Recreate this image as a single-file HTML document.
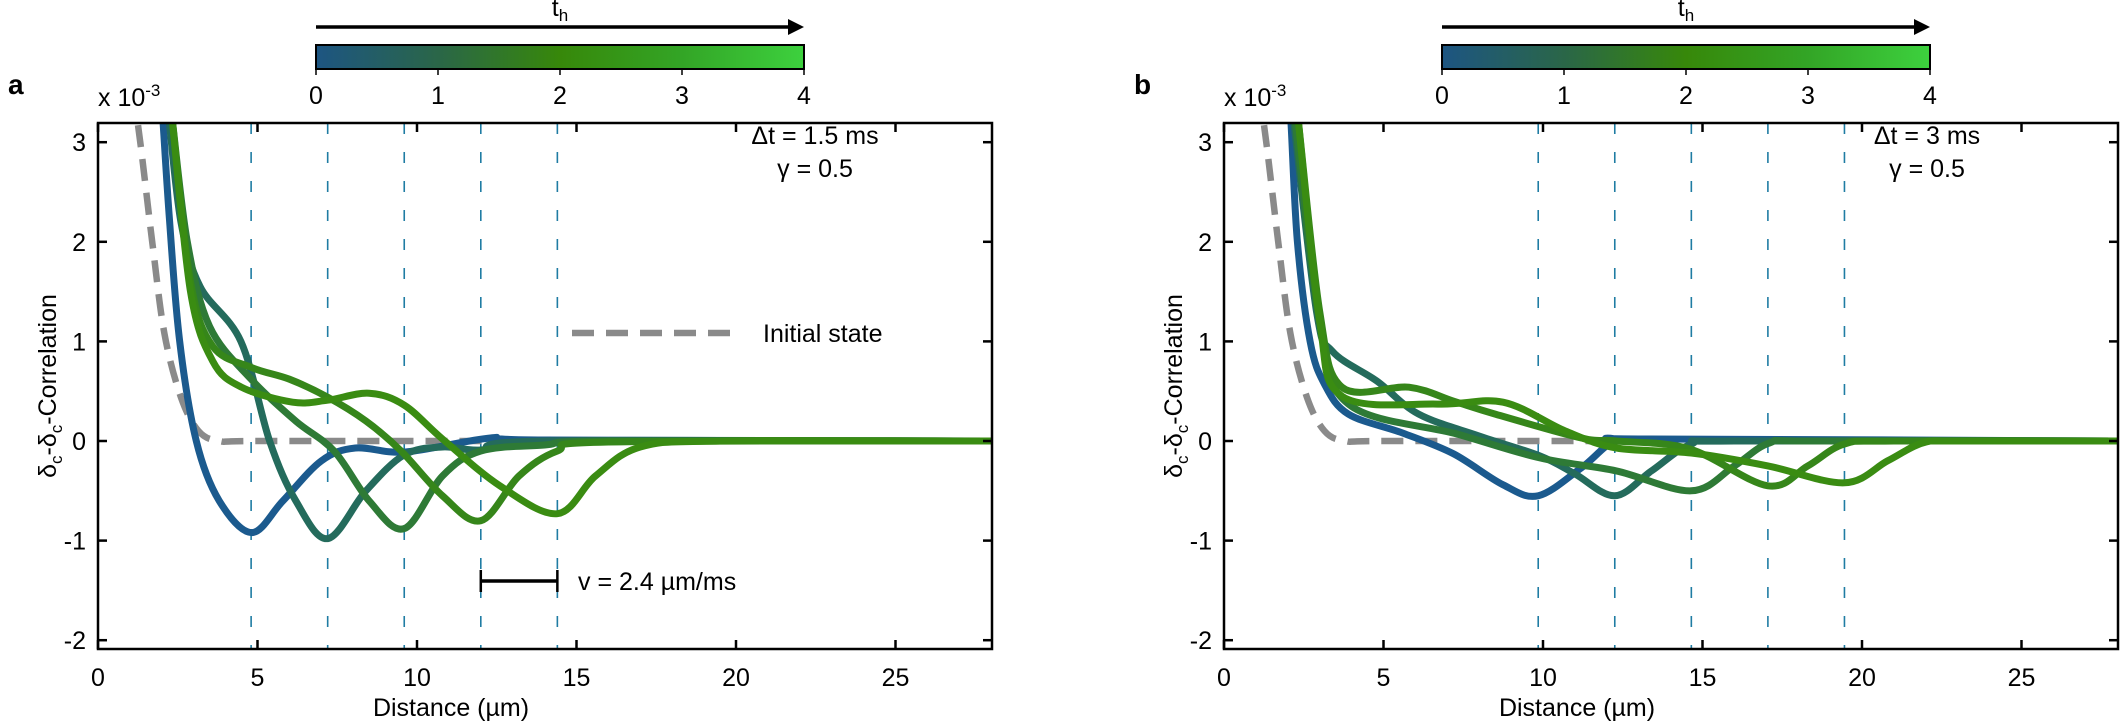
<!DOCTYPE html>
<html><head><meta charset="utf-8"><style>
html,body{margin:0;padding:0;background:#fff;}
svg{display:block;font-family:"Liberation Sans",sans-serif;}
</style></head><body>
<svg id="s" width="2121" height="722" xmlns="http://www.w3.org/2000/svg">
<defs>
<linearGradient id="cm" x1="0" x2="1" y1="0" y2="0">
<stop offset="0" stop-color="#1d5582"/><stop offset="0.25" stop-color="#2a6648"/>
<stop offset="0.5" stop-color="#37880a"/><stop offset="0.75" stop-color="#33a526"/>
<stop offset="1" stop-color="#3dd13e"/></linearGradient>
</defs>
<g id="root"></g>
</svg>
<script>
const NS="http://www.w3.org/2000/svg";
const root=document.getElementById('root');
const FS=25, FSS=17;
function el(t,a,txt,p){const e=document.createElementNS(NS,t);for(const k in a)e.setAttribute(k,a[k]);if(txt!=null)e.textContent=txt;(p||root).appendChild(e);return e;}
function cr(pts){let d="M"+pts[0][0].toFixed(1)+","+pts[0][1].toFixed(1);
for(let i=0;i<pts.length-1;i++){const p0=pts[Math.max(0,i-1)],p1=pts[i],p2=pts[i+1],p3=pts[Math.min(pts.length-1,i+2)];
const c1=[p1[0]+(p2[0]-p0[0])/6,p1[1]+(p2[1]-p0[1])/6],c2=[p2[0]-(p3[0]-p1[0])/6,p2[1]-(p3[1]-p1[1])/6];
d+=" C"+c1.map(v=>v.toFixed(1))+" "+c2.map(v=>v.toFixed(1))+" "+p2.map(v=>v.toFixed(1));}return d;}
const cols=["#1b5a8e","#246b5c","#2e7a36","#36861a","#3a8c12"];
function panel(ox,label,dts,vlines,curves,extra){
 const X=x=>ox+31.9*x, Y=y=>441-99.6*y, L=ox, R=ox+894, T=123, B=649;
 const cp="cp"+label; const c=el('clipPath',{id:cp}); el('rect',{x:L,y:T,width:R-L,height:B-T},null,c);
 const g=el('g',{'clip-path':'url(#'+cp+')'});
 vlines.forEach(v=>el('line',{x1:X(v),x2:X(v),y1:T,y2:B,stroke:'#1f7ca3','stroke-width':1.6,'stroke-dasharray':'11 18'},null,g));
 const gray=[[1.0,3.5],[1.24,3.2],[1.7,2.0],[2.08,1.08],[2.6,0.44],[3.15,0.1],[3.8,0.0],[5,0],[12.6,0]];
 el('path',{d:cr(gray.map(p=>[X(p[0]),Y(p[1])])),fill:'none',stroke:'#8a8a8a','stroke-width':6.5,'stroke-dasharray':'22 12'},null,g);
 curves.forEach((cv,i)=>el('path',{d:cr(cv.map(p=>[X(p[0]),Y(p[1])])),fill:'none',stroke:cols[i],'stroke-width':7,'stroke-linejoin':'round'},null,g));
 el('rect',{x:L,y:T,width:R-L,height:B-T,fill:'none',stroke:'#000','stroke-width':2.5});
 for(let v=0;v<=25;v+=5){el('line',{x1:X(v),x2:X(v),y1:B,y2:B-9,stroke:'#000','stroke-width':2.5});el('line',{x1:X(v),x2:X(v),y1:T,y2:T+9,stroke:'#000','stroke-width':2.5});
  el('text',{x:X(v),y:686,'font-size':FS,'text-anchor':'middle'},String(v));}
 for(let v=-2;v<=3;v++){el('line',{x1:L,x2:L+9,y1:Y(v),y2:Y(v),stroke:'#000','stroke-width':2.5});el('line',{x1:R,x2:R-9,y1:Y(v),y2:Y(v),stroke:'#000','stroke-width':2.5});
  el('text',{x:L-12,y:Y(v)+9,'font-size':FS,'text-anchor':'end'},String(v));}
 const t=el('text',{x:L,y:106,'font-size':FS},'x 10');el('tspan',{'font-size':FSS,dy:-10},'-3',t);
 const yl=el('text',{transform:`translate(${L-42},386) rotate(-90)`,'font-size':FS,'text-anchor':'middle'});
 yl.innerHTML='δ<tspan font-size="17" dy="6">c</tspan><tspan dy="-6">-δ</tspan><tspan font-size="17" dy="6">c</tspan><tspan dy="-6">-Correlation</tspan>';
 el('text',{x:L+353,y:716,'font-size':FS,'text-anchor':'middle'},'Distance (µm)');
 el('text',{x:L-90,y:94,'font-size':28,'font-weight':'bold'},label);
 const cl=L+218, cw=488;
 el('rect',{x:cl,y:45,width:cw,height:24,fill:'url(#cm)',stroke:'#000','stroke-width':2});
 el('line',{x1:cl,x2:cl+cw-14,y1:27,y2:27,stroke:'#000','stroke-width':3.5});
 el('polygon',{points:`${cl+cw},27 ${cl+cw-16},19 ${cl+cw-16},35`,fill:'#000'});
 const th=el('text',{x:cl+244,y:16,'font-size':FS,'text-anchor':'middle'},'t');el('tspan',{'font-size':FSS,dy:5},'h',th);
 for(let i=0;i<=4;i++){const x=cl+cw*i/4;el('line',{x1:x,x2:x,y1:69,y2:75,stroke:'#000','stroke-width':1.5});el('text',{x:x,y:104,'font-size':FS,'text-anchor':'middle'},String(i));}
 el('text',{x:L+dts[2],y:144,'font-size':FS,'text-anchor':'middle'},dts[0]);
 el('text',{x:L+dts[2],y:177,'font-size':FS,'text-anchor':'middle'},dts[1]);
 if(extra)extra(X,Y);
}
const A=[
 [[1.95,3.6],[2.02,3.3],[2.24,2.22],[2.56,1.0],[3.08,0],[3.8,-0.6],[4.82,-0.92],[5.8,-0.6],[7.0,-0.2],[8.07,-0.07],[9.64,-0.11],[12.3,0.03],[14,0.01],[28,0]],
 [[2.05,3.6],[2.2,3.3],[2.6,2.2],[3.2,1.55],[4.48,1.0],[5.38,0.0],[6.2,-0.6],[7.2,-0.98],[8.4,-0.5],[9.6,-0.14],[10.8,-0.06],[12,-0.09],[14,0],[28,0]],
 [[2.15,3.6],[2.3,3.3],[2.8,2.0],[3.5,1.15],[4.8,0.62],[6.2,0.2],[7.4,-0.1],[8.5,-0.6],[9.6,-0.88],[10.8,-0.35],[12,-0.1],[14,-0.04],[16,0],[28,0]],
 [[2.15,3.6],[2.3,3.3],[2.9,1.6],[3.6,0.95],[4.8,0.74],[6.0,0.62],[7.2,0.44],[8.4,0.2],[9.5,-0.1],[10.8,-0.55],[12.0,-0.8],[13.2,-0.35],[14.4,-0.1],[16,-0.01],[28,0]],
 [[2.15,3.6],[2.3,3.3],[2.9,1.5],[3.6,0.8],[4.5,0.54],[6.1,0.39],[7.2,0.41],[8.5,0.48],[9.6,0.36],[10.8,0.02],[12.6,-0.45],[14.4,-0.73],[15.6,-0.35],[17,-0.06],[19.5,0],[28,0]]
];
const Bc=[
 [[1.95,3.6],[2.08,3.3],[2.3,2.0],[2.7,1.0],[3.15,0.57],[3.9,0.27],[5.6,0.08],[7.2,-0.13],[8.75,-0.44],[9.85,-0.55],[11.2,-0.27],[12.25,0],[13.4,0.02],[28,0]],
 [[2.0,3.6],[2.15,3.3],[2.9,1.3],[3.4,0.9],[4.8,0.6],[6.1,0.27],[8,0.05],[9.9,-0.15],[11,-0.33],[12.25,-0.55],[13.4,-0.3],[14.65,-0.03],[16,0],[28,0]],
 [[2.05,3.6],[2.2,3.3],[3.0,1.2],[3.9,0.37],[7.3,0.07],[9.9,-0.17],[12.3,-0.3],[14.65,-0.5],[16,-0.25],[17.1,-0.02],[18.5,0],[28,0]],
 [[2.15,3.6],[2.3,3.3],[3.0,1.3],[3.7,0.54],[5.8,0.54],[7.2,0.4],[8.5,0.27],[11.2,0.03],[12.3,0],[14.6,-0.08],[17.05,-0.45],[18.3,-0.25],[19.45,-0.03],[21,0],[28,0]],
 [[2.15,3.6],[2.3,3.3],[3.0,1.2],[3.7,0.45],[6.7,0.37],[8.75,0.39],[10.7,0.1],[12.3,-0.07],[14.65,-0.12],[17.05,-0.25],[19.45,-0.42],[20.8,-0.2],[21.9,-0.02],[23,0],[28,0]]
];
panel(98,'a',['Δt = 1.5 ms','γ = 0.5',717],[4.8,7.2,9.6,12.0,14.4],A,(X,Y)=>{
 el('line',{x1:572,x2:737,y1:333,y2:333,stroke:'#8a8a8a','stroke-width':6.5,'stroke-dasharray':'22 12'});
 el('text',{x:763,y:342,'font-size':FS},'Initial state');
 el('line',{x1:X(12),x2:X(14.4),y1:581,y2:581,stroke:'#000','stroke-width':3.5});
 el('line',{x1:X(12),x2:X(12),y1:570,y2:592,stroke:'#000','stroke-width':2.5});
 el('line',{x1:X(14.4),x2:X(14.4),y1:570,y2:592,stroke:'#000','stroke-width':2.5});
 el('text',{x:578,y:590,'font-size':FS},'v = 2.4 µm/ms');
});
panel(1224,'b',['Δt = 3 ms','γ = 0.5',703],[9.85,12.25,14.65,17.05,19.45],Bc,null);
</script>
</body></html>
